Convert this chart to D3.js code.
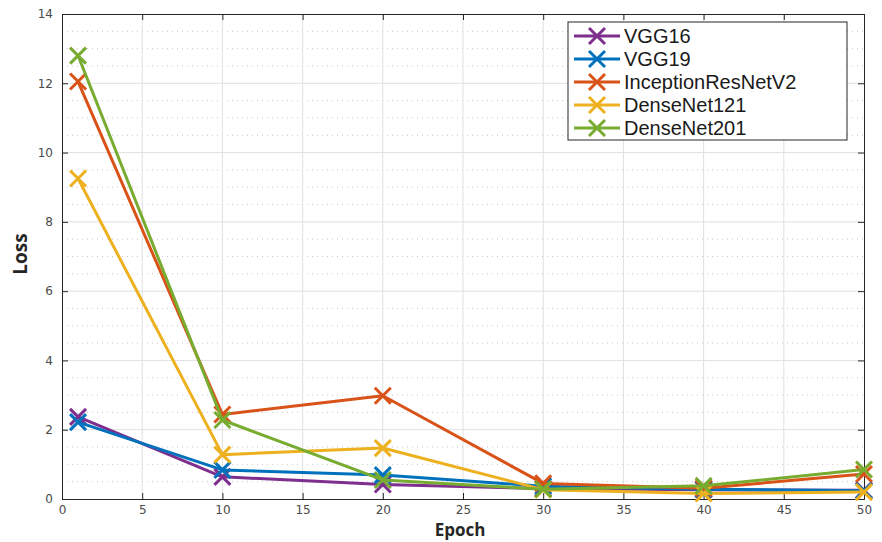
<!DOCTYPE html>
<html><head><meta charset="utf-8">
<script src="https://cdn.jsdelivr.net/npm/d3@7"></script>
<style>body{margin:0;background:#fff;} svg{display:block;}</style>
</head><body>
<svg id="c" width="882" height="542"></svg>
<script>
const epochs = [1, 10, 20, 30, 40, 50];
const seriesNames = ["VGG16", "VGG19", "InceptionResNetV2", "DenseNet121", "DenseNet201"];
const vgg16 = [2.37, 0.64, 0.42, 0.30, 0.27, 0.25];
const vgg19 = [2.22, 0.84, 0.69, 0.37, 0.28, 0.24];
const inceptionResNetV2 = [12.05, 2.44, 2.98, 0.45, 0.31, 0.72];
const denseNet121 = [9.25, 1.28, 1.47, 0.27, 0.16, 0.20];
const denseNet201 = [12.8, 2.28, 0.55, 0.28, 0.38, 0.85];
const seriesValues = [vgg16, vgg19, inceptionResNetV2, denseNet121, denseNet201];
const colors = ["#7E2F8E", "#0072BD", "#D95319", "#EDB120", "#77AC30"];
const xTicks = [0, 5, 10, 15, 20, 25, 30, 35, 40, 45, 50];
const yTicks = [0, 2, 4, 6, 8, 10, 12, 14];
const yMinor = d3.range(0.5, 14, 0.5).filter(v => v % 2 !== 0);

const svg = d3.select("#c");
const L = 62, R = 864, T = 14, B = 499;
const x = d3.scaleLinear().domain([0, 50]).range([L, R]);
const y = d3.scaleLinear().domain([0, 14]).range([B, T]);

// minor dotted grid
svg.append("g").selectAll("line").data(yMinor).join("line")
  .attr("x1", L).attr("x2", R).attr("y1", d => y(d)).attr("y2", d => y(d))
  .attr("stroke", "#c8c8c8").attr("stroke-width", 1).attr("stroke-dasharray", "1,4");
// major grid
svg.append("g").selectAll("line").data(yTicks.slice(1, -1)).join("line")
  .attr("x1", L).attr("x2", R).attr("y1", d => y(d)).attr("y2", d => y(d))
  .attr("stroke", "#e0e0e0").attr("stroke-width", 1);
svg.append("g").selectAll("line").data(xTicks.slice(1, -1)).join("line")
  .attr("y1", T).attr("y2", B).attr("x1", d => x(d)).attr("x2", d => x(d))
  .attr("stroke", "#e0e0e0").attr("stroke-width", 1);

// axes
const fontTick = "DejaVu Sans, sans-serif";
const ax = svg.append("g").attr("transform", `translate(0,${B})`)
  .call(d3.axisBottom(x).tickValues(xTicks).tickSize(-6).tickPadding(6));
const ay = svg.append("g").attr("transform", `translate(${L},0)`)
  .call(d3.axisLeft(y).tickValues(yTicks).tickSize(-6).tickPadding(9));
const at = svg.append("g").attr("transform", `translate(0,${T})`)
  .call(d3.axisTop(x).tickValues(xTicks).tickSize(-6).tickFormat(""));
const ar = svg.append("g").attr("transform", `translate(${R},0)`)
  .call(d3.axisRight(y).tickValues(yTicks).tickSize(-6).tickFormat(""));
[ax, ay, at, ar].forEach(g => {
  g.selectAll("path").attr("stroke", "#262626").attr("stroke-width", 1);
  g.selectAll("line").attr("stroke", "#262626");
  g.selectAll("text").attr("font-family", fontTick).attr("font-size", 12).attr("fill", "#4a4a4a");
});

// lines
const line = d3.line().x((d, i) => x(epochs[i])).y(d => y(d));
const ms = 8;
seriesValues.forEach((vals, k) => {
  svg.append("path").datum(vals).attr("d", line)
    .attr("fill", "none").attr("stroke", colors[k]).attr("stroke-width", 3).attr("stroke-linejoin", "round");
  svg.append("g").selectAll("path").data(vals).join("path")
    .attr("d", (d, i) => {
      const cx = x(epochs[i]), cy = y(d);
      return `M${cx - ms},${cy - ms}L${cx + ms},${cy + ms}M${cx - ms},${cy + ms}L${cx + ms},${cy - ms}`;
    })
    .attr("stroke", colors[k]).attr("stroke-width", 3).attr("fill", "none");
});

// axis labels
svg.append("text").attr("x", 460).attr("y", 536).attr("text-anchor", "middle")
  .attr("font-family", "Open Sans, DejaVu Sans, sans-serif").attr("font-weight", "bold").attr("font-size", 17)
  .attr("fill", "#262626").text("Epoch");
svg.append("text").attr("transform", `translate(27,254) rotate(-90)`).attr("text-anchor", "middle")
  .attr("font-family", "Open Sans, DejaVu Sans, sans-serif").attr("font-weight", "bold").attr("font-size", 19)
  .attr("fill", "#262626").text("Loss");

// legend
const lg = svg.append("g");
const lx = 568, ly = 22, lw = 279, lh = 118;
lg.append("rect").attr("x", lx).attr("y", ly).attr("width", lw).attr("height", lh)
  .attr("fill", "#fff").attr("stroke", "#262626").attr("stroke-width", 1);
seriesNames.forEach((name, k) => {
  const cy = ly + 14 + k * 23;
  lg.append("line").attr("x1", lx + 6).attr("x2", lx + 52).attr("y1", cy).attr("y2", cy)
    .attr("stroke", colors[k]).attr("stroke-width", 3);
  const cx = lx + 29;
  lg.append("path").attr("d", `M${cx - 8},${cy - 8}L${cx + 8},${cy + 8}M${cx - 8},${cy + 8}L${cx + 8},${cy - 8}`)
    .attr("stroke", colors[k]).attr("stroke-width", 3);
  lg.append("text").attr("x", lx + 56).attr("y", cy + 7).attr("font-family", "Liberation Sans, Arial, sans-serif")
    .attr("font-size", 20).attr("fill", "#1a1a1a").text(name);
});
</script>
</body></html>
